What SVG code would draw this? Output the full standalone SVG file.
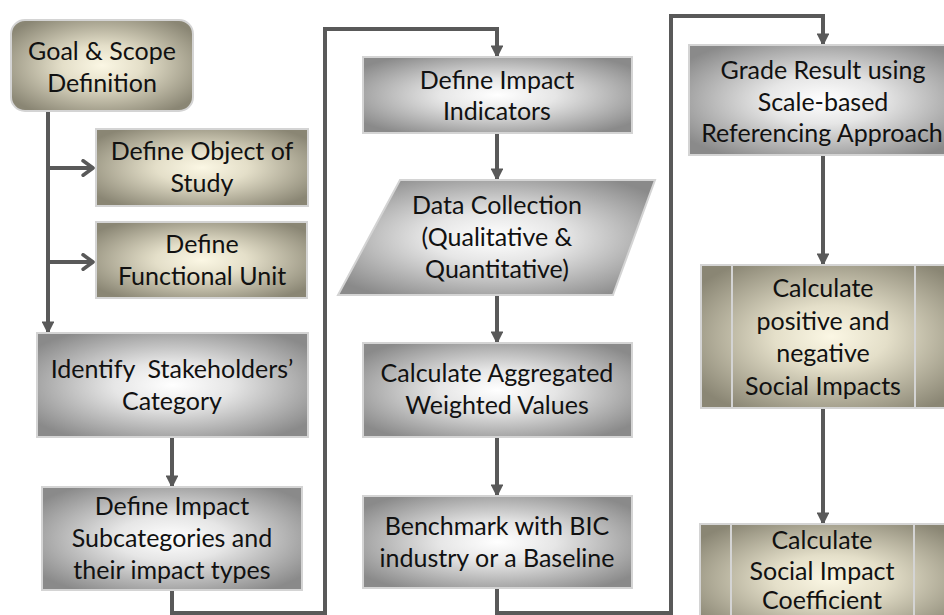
<svg xmlns="http://www.w3.org/2000/svg" width="944" height="615" viewBox="0 0 944 615">
<defs>
<radialGradient id="gGrey" cx="0.5" cy="0.5" r="0.62">
<stop offset="0" stop-color="#ffffff"/>
<stop offset="0.35" stop-color="#e6e6e6"/>
<stop offset="1" stop-color="#8a8a8a"/>
</radialGradient>
<radialGradient id="gTan" cx="0.5" cy="0.5" r="0.62">
<stop offset="0" stop-color="#fbf7e4"/>
<stop offset="0.35" stop-color="#e4dfc9"/>
<stop offset="1" stop-color="#8a8674"/>
</radialGradient>
<marker id="ah" viewBox="0 0 10 10" refX="9" refY="5" markerWidth="3.2" markerHeight="3.2" orient="auto" markerUnits="strokeWidth">
<path d="M0,0 L10,5 L0,10 Z" fill="#595959"/>
</marker>
<marker id="chev" viewBox="0 0 10 10" refX="8.5" refY="5" markerWidth="4.5" markerHeight="4.5" orient="auto" markerUnits="strokeWidth">
<path d="M3,1 L8.5,5 L3,9" fill="none" stroke="#595959" stroke-width="2" stroke-linecap="round" stroke-linejoin="round"/>
</marker>
</defs>
<style>
.grey{fill:url(#gGrey);stroke:#d4d4d4;stroke-width:2}
.tan{fill:url(#gTan);stroke:#d4d4d4;stroke-width:2}
.inner{stroke:#d4d4d4;stroke-width:2;fill:none}
text{font-family:Lato,"Liberation Sans",sans-serif;font-size:25px;fill:#111;text-anchor:middle}
.c{fill:none;stroke:#595959;stroke-width:4}
</style>
<rect width="944" height="615" fill="#ffffff"/>

<g id="connectors">
<line class="c" x1="48" y1="111" x2="48" y2="333" marker-end="url(#ah)"/>
<line class="c" x1="48" y1="168" x2="93" y2="168" marker-end="url(#chev)"/>
<line class="c" x1="48" y1="262" x2="93" y2="262" marker-end="url(#chev)"/>
<line class="c" x1="172" y1="437" x2="172" y2="487" marker-end="url(#ah)"/>
<polyline class="c" points="172,590 172,613 325,613 325,29 497,29" />
<line class="c" x1="497" y1="27" x2="497" y2="57" marker-end="url(#ah)"/>
<line class="c" x1="497" y1="133" x2="497" y2="180" marker-end="url(#ah)"/>
<line class="c" x1="497" y1="295" x2="497" y2="343" marker-end="url(#ah)"/>
<line class="c" x1="497" y1="437" x2="497" y2="496" marker-end="url(#ah)"/>
<polyline class="c" points="497,588 497,613 671,613 671,16 823,16"/>
<line class="c" x1="823" y1="14" x2="823" y2="45" marker-end="url(#ah)"/>
<line class="c" x1="823" y1="155" x2="823" y2="265" marker-end="url(#ah)"/>
<line class="c" x1="823" y1="408" x2="823" y2="524" marker-end="url(#ah)"/>
</g>

<g id="goal">
<rect class="tan" x="11" y="20" width="182" height="91" rx="14"/>
<text x="102" y="60">Goal &amp; Scope</text>
<text x="102" y="92">Definition</text>
</g>

<g id="object">
<rect class="tan" x="96" y="129" width="212" height="77"/>
<text x="202" y="160">Define Object of</text>
<text x="202" y="192">Study</text>
</g>

<g id="functional">
<rect class="tan" x="96" y="222" width="211" height="76"/>
<text x="202" y="253">Define</text>
<text x="202" y="285">Functional Unit</text>
</g>

<g id="stakeholders">
<rect class="grey" x="37" y="333" width="271" height="104"/>
<text x="172" y="378" xml:space="preserve">Identify  Stakeholders’</text>
<text x="172" y="410">Category</text>
</g>

<g id="subcategories">
<rect class="grey" x="42" y="487" width="260" height="103"/>
<text x="172" y="515">Define Impact</text>
<text x="172" y="547">Subcategories and</text>
<text x="172" y="579">their impact types</text>
</g>

<g id="indicators">
<rect class="grey" x="363" y="57" width="269" height="76"/>
<text x="497" y="89">Define Impact</text>
<text x="497" y="120">Indicators</text>
</g>

<g id="datacollection">
<polygon class="grey" points="400,180 655,180 613,295 338,295"/>
<text x="497" y="214">Data Collection</text>
<text x="497" y="246">(Qualitative &amp;</text>
<text x="497" y="278">Quantitative)</text>
</g>

<g id="aggregated">
<rect class="grey" x="363" y="343" width="269" height="94"/>
<text x="497" y="382">Calculate Aggregated</text>
<text x="497" y="414">Weighted Values</text>
</g>

<g id="benchmark">
<rect class="grey" x="363" y="496" width="269" height="92"/>
<text x="497" y="535">Benchmark with BIC</text>
<text x="497" y="567">industry or a Baseline</text>
</g>

<g id="grade">
<rect class="grey" x="689" y="45" width="270" height="110"/>
<text x="823" y="79">Grade Result using</text>
<text x="823" y="111">Scale-based</text>
<text x="822" y="142">Referencing Approach</text>
</g>

<g id="posneg">
<rect class="tan" x="701" y="265" width="260" height="143"/>
<line class="inner" x1="732" y1="265" x2="732" y2="408"/>
<line class="inner" x1="915" y1="265" x2="915" y2="408"/>
<text x="823" y="297">Calculate</text>
<text x="823" y="330">positive and</text>
<text x="823" y="362">negative</text>
<text x="823" y="395">Social Impacts</text>
</g>

<g id="coefficient">
<rect class="tan" x="700" y="524" width="260" height="110"/>
<line class="inner" x1="731" y1="524" x2="731" y2="615"/>
<line class="inner" x1="914" y1="524" x2="914" y2="615"/>
<text x="822" y="549">Calculate</text>
<text x="822" y="580">Social Impact</text>
<text x="822" y="609">Coefficient</text>
</g>
</svg>
